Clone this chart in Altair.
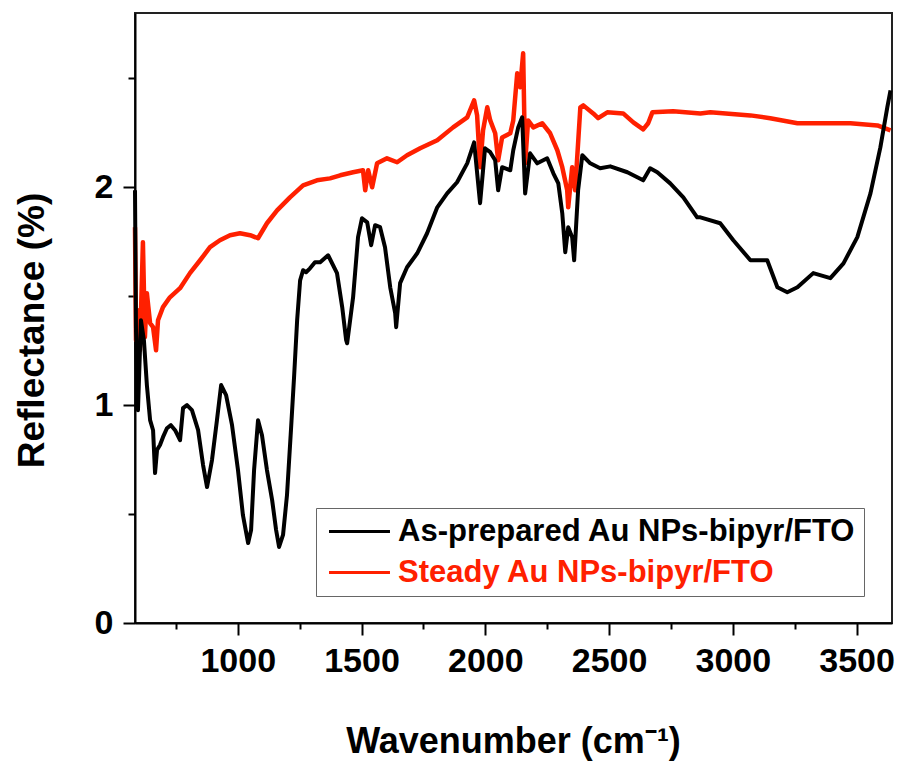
import altair as alt
import pandas as pd

# ---- data ----
black_x = [585, 589, 597, 609, 621, 633, 646, 658, 666, 674, 686, 698, 714, 730, 747, 767, 779, 795, 815, 840,
           860, 876, 896, 916, 933, 953, 977, 1001, 1021, 1042, 1054, 1066, 1082, 1098, 1118, 1139, 1155, 1167,
           1183, 1199, 1215, 1228, 1240, 1252, 1264, 1276, 1292, 1312, 1333, 1365, 1401, 1422, 1438, 1442, 1466,
           1486, 1502, 1523, 1539, 1555, 1575, 1595, 1616, 1636, 1640, 1656, 1684, 1725, 1765, 1806, 1846, 1886,
           1927, 1955, 1979, 1999, 2020, 2040, 2052, 2068, 2101, 2113, 2133, 2149, 2161, 2181, 2210, 2250, 2275,
           2295, 2311, 2323, 2335, 2351, 2359, 2375, 2392, 2424, 2464, 2505, 2574, 2614, 2638, 2666, 2695, 2747,
           2800, 2856, 2869, 2949, 3002, 3071, 3139, 3180, 3220, 3261, 3325, 3394, 3447, 3503, 3556, 3596, 3624,
           3637]
black_y = [1.986, 1.344, 0.977, 1.390, 1.298, 1.092, 0.931, 0.885, 0.688, 0.794, 0.817, 0.853, 0.894, 0.908,
           0.885, 0.839, 0.986, 1.000, 0.977, 0.885, 0.725, 0.624, 0.748, 0.931, 1.092, 1.046, 0.908, 0.702,
           0.495, 0.367, 0.427, 0.702, 0.931, 0.862, 0.702, 0.564, 0.427, 0.349, 0.404, 0.587, 0.885, 1.138,
           1.390, 1.573, 1.619, 1.610, 1.628, 1.656, 1.656, 1.688, 1.606, 1.450, 1.298, 1.284, 1.495, 1.771,
           1.858, 1.839, 1.734, 1.826, 1.817, 1.725, 1.541, 1.422, 1.358, 1.560, 1.633, 1.697, 1.789, 1.908,
           1.972, 2.023, 2.110, 2.206, 1.927, 2.179, 2.161, 2.124, 1.986, 2.092, 2.078, 2.170, 2.275, 2.321,
           1.972, 2.156, 2.110, 2.133, 2.064, 2.018, 1.881, 1.702, 1.817, 1.771, 1.665, 1.986, 2.147, 2.110,
           2.087, 2.096, 2.069, 2.046, 2.032, 2.087, 2.069, 2.018, 1.954, 1.862, 1.862, 1.835, 1.757, 1.665,
           1.665, 1.541, 1.518, 1.541, 1.606, 1.583, 1.651, 1.771, 1.972, 2.183, 2.367, 2.445]

red_x = [585, 589, 597, 605, 617, 625, 633, 646, 658, 670, 678, 698, 726, 767, 807, 848, 888, 928, 969, 1009,
         1050, 1082, 1118, 1159, 1211, 1264, 1320, 1373, 1414, 1466, 1506, 1515, 1527, 1543, 1563, 1603, 1644,
         1684, 1737, 1806, 1870, 1927, 1955, 1967, 1979, 1991, 2008, 2020, 2040, 2052, 2068, 2101, 2113, 2129,
         2141, 2153, 2161, 2173, 2194, 2230, 2262, 2291, 2311, 2331, 2335, 2351, 2363, 2384, 2396, 2436, 2456,
         2493, 2557, 2598, 2638, 2658, 2675, 2759, 2869, 2909, 3071, 3151, 3261, 3366, 3475, 3584, 3637]
red_y = [1.817, 1.298, 1.436, 1.252, 1.748, 1.312, 1.514, 1.376, 1.358, 1.252, 1.390, 1.450, 1.495, 1.537,
         1.606, 1.665, 1.725, 1.757, 1.780, 1.789, 1.780, 1.766, 1.835, 1.894, 1.954, 2.009, 2.032, 2.041,
         2.055, 2.069, 2.078, 1.986, 2.078, 2.000, 2.110, 2.133, 2.115, 2.147, 2.179, 2.216, 2.275, 2.321,
         2.399, 2.330, 2.092, 2.261, 2.367, 2.307, 2.248, 2.124, 2.229, 2.248, 2.307, 2.523, 2.459, 2.615,
         2.110, 2.307, 2.275, 2.294, 2.248, 2.170, 2.092, 1.986, 1.908, 2.092, 1.986, 2.367, 2.376, 2.339,
         2.317, 2.344, 2.339, 2.298, 2.266, 2.294, 2.344, 2.349, 2.339, 2.344, 2.330, 2.317, 2.294, 2.294,
         2.294, 2.284, 2.261]

series_names = ["As-prepared Au NPs-bipyr/FTO", "Steady Au NPs-bipyr/FTO"]
series_colors = ["#000000", "#ff2000"]

x_ticks = [750, 1000, 1250, 1500, 1750, 2000, 2250, 2500, 2750, 3000, 3250, 3500]
y_ticks = [0, 0.5, 1, 1.5, 2, 2.5]

df = pd.concat([
    pd.DataFrame({"series": series_names[0], "wavenumber": black_x, "reflectance": black_y}),
    pd.DataFrame({"series": series_names[1], "wavenumber": red_x, "reflectance": red_y}),
], ignore_index=True)

FONT = "Liberation Sans"

x_axis = alt.Axis(
    values=x_ticks, format="d", title="Wavenumber (cm\u207b\u00b9)",
    labelExpr="datum.value % 500 === 0 ? datum.label : ''",
    tickSize={"condition": {"test": "datum.value % 500 === 0", "value": 12}, "value": 6},
    labelPadding=9, labelFlush=False, labelOverlap=False,
    titleX=378, titleY=129, titleBaseline="alphabetic", titleAlign="center",
    titleFontSize=36,
)
y_axis = alt.Axis(
    values=y_ticks, title="Reflectance (%)",
    labelExpr="datum.value % 1 === 0 ? format(datum.value, 'd') : ''",
    tickSize={"condition": {"test": "datum.value % 1 === 0", "value": 12}, "value": 7},
    labelPadding=10, labelFlush=False, labelOverlap=False,
    titleX=-92, titleY=317, titleBaseline="alphabetic", titleAlign="center",
    titleFontSize=37,
)

legend = alt.Legend(
    orient="none", legendX=181, legendY=495, title=None,
    symbolType="M-3,0H3", symbolSize=413, symbolStrokeWidth=3,
    symbolOffset=20,
    labelFont=FONT, labelFontWeight="bold", labelFontSize=31, labelLimit=800,
    labelColor=alt.ExprRef("datum.label == 'Steady Au NPs-bipyr/FTO' ? '#ff2000' : '#000000'"),
    labelOffset=23, strokeColor="#666666", fillColor="white", padding=8, rowPadding=9,
)

base = alt.Chart(df).encode(
    x=alt.X("wavenumber:Q", scale=alt.Scale(domain=[585, 3643], nice=False, zero=False), axis=x_axis),
    y=alt.Y("reflectance:Q", scale=alt.Scale(domain=[0, 2.8], nice=False, zero=False), axis=y_axis),
    color=alt.Color("series:N", scale=alt.Scale(domain=series_names, range=series_colors), legend=legend),
)

red = base.transform_filter(alt.datum.series == series_names[1]).mark_line(strokeWidth=4.5, strokeJoin="round")
black = base.transform_filter(alt.datum.series == series_names[0]).mark_line(strokeWidth=4, strokeJoin="round")

chart = alt.layer(red, black).properties(
    width=757, height=610,
    padding={"left": 135, "top": 13, "right": 10, "bottom": 138},
    autosize=alt.AutoSizeParams(type="none"),
).configure_view(
    stroke="#222222", strokeWidth=2
).configure_axis(
    labelFont=FONT, labelFontWeight="bold", labelFontSize=34, labelColor="black",
    titleFont=FONT, titleFontWeight="bold", titleColor="black",
    domainColor="black", domainWidth=2, tickColor="black", tickWidth=2, grid=False,
)

chart.save("out.html", embed_options={"renderer": "svg", "actions": False})
